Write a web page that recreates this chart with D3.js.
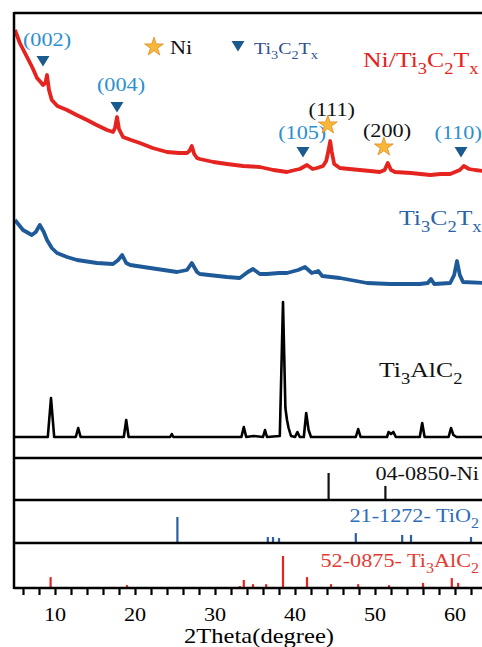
<!DOCTYPE html>
<html>
<head>
<meta charset="utf-8">
<script src="https://cdn.jsdelivr.net/npm/d3@7"></script>
<style>
  body { margin: 0; background: #fff; }
  svg { display: block; }
</style>
</head>
<body>
<div id="chart"></div>
<script>
/* * * * * * * * * * * * * *
*  XRD patterns             *
* * * * * * * * * * * * * */

// measured patterns, [2theta, intensity a.u.]
const niTi3C2Tx = [[5.0,428],[5.6,415],[6.5,401],[7.2,390],[7.75,380],[8.2,376],[8.5,373],[8.8,375],[9.0,383],[9.25,368],[9.6,358],
  [10.3,352],[11.5,348],[12.7,343],[14.0,338],[15.2,333],[16.5,328],[17.25,326],[17.5,330],[17.75,341],[18.0,329],[18.5,321],
  [19.5,318],[20.6,315],[22.2,310],[24.0,306],[25.5,305],[26.5,305],[26.8,307],[27.1,312],[27.4,304],[27.75,300],[28.1,299],
  [29.8,296],[31.5,294],[33.5,292],[35.6,291],[37.3,288],[39.0,286],[40.0,288],[40.6,289],[41.5,293],[42.2,289],[42.75,290],
  [43.5,292],[43.9,297],[44.2,308],[44.4,317],[44.6,306],[44.9,294],[45.6,290],[46.8,289],[48.1,288],[49.4,287],[50.6,286],
  [51.2,288],[51.6,295],[52.0,288],[52.5,286],[54.5,285],[56.9,283],[58.2,284],[59.4,284],[60.6,288],[61.1,292],[61.75,289],
  [62.5,288],[63.5,287]];

const ti3C2Tx = [[5.0,238],[6.0,228],[7.1,223],[7.6,226],[8.1,233],[8.6,226],[9.0,218],[9.6,210],[10.25,205],[11.5,201],
  [12.75,198],[15.25,195],[17.25,194],[17.9,198],[18.4,203],[18.9,195],[19.4,193],[21.9,190],[25.25,186],[26.5,188],[27.1,195],
  [27.75,186],[28.1,184],[31.5,181],[33.1,180],[34.1,186],[34.75,189],[35.6,184],[36.5,184],[38.0,185],[39.0,185],[40.4,188],
  [41.25,191],[42.1,185],[42.9,187],[43.4,182],[45.6,180],[49.0,175],[51.9,174],[55.6,174],[56.6,175],[57.0,179],[57.4,174],
  [59.4,175],[59.9,183],[60.25,197],[60.6,183],[61.0,176],[63.5,175]];

const ti3AlC2 = [[5,21],[9.1,21],[9.5,60],[9.9,21],[12.6,21],[12.9,30],[13.2,21],[18.6,21],[18.9,38],[19.2,21],[24.4,21],
  [24.6,24],[24.8,21],[33.3,21],[33.6,31],[33.9,21],[34.8,22],[36.0,21],[36.25,28],[36.5,21],[38.1,22],[38.5,156],[38.8,50],
  [39.0,38],[39.2,30],[39.5,22],[40.0,21],[40.3,26],[40.6,21],[41.1,21],[41.4,45],[41.7,28],[42.0,21],[47.6,21],[47.9,29],
  [48.2,21],[51.5,21],[51.7,26],[52.0,24],[52.3,26],[52.6,21],[55.6,21],[55.9,35],[56.2,21],[59.2,21],[59.5,30],[59.8,23],
  [60.2,21],[63.5,21]];

// reference cards, [2theta, relative intensity]
const cardNi = [[44.2,100],[51.3,52]];
const cardTiO2 = [[25.3,100],[36.6,23],[37.25,23],[38.0,19],[47.6,38],[53.4,31],[54.5,31],[62.0,23]];
const cardTi3AlC2 = [[9.45,34],[19.0,9],[33.1,6],[33.6,25],[34.75,12],[36.4,12],[38.5,100],[41.5,34],[44.5,12],
  [47.9,12],[51.75,9],[56.0,16],[59.6,31],[60.4,16]];

// peak labels: marker position and label position in data units
const peakLabels = [
  {text: "(002)", kind: "tri",  deg: 8.5,   val: 397, tdeg: 9.0,  tval: 412},
  {text: "(004)", kind: "tri",  deg: 17.75, val: 351, tdeg: 18.25, tval: 367},
  {text: "(105)", kind: "tri",  deg: 41.0,  val: 306, tdeg: 40.9, tval: 319},
  {text: "(111)", kind: "star", deg: 44.1,  val: 333, tdeg: 44.6, tval: 342},
  {text: "(200)", kind: "star", deg: 51.1,  val: 311, tdeg: 51.5, tval: 321},
  {text: "(110)", kind: "tri",  deg: 60.75, val: 306, tdeg: 60.4, tval: 319}
];

const xTicks = [6,8,10,12,14,16,18,20,22,24,26,28,30,32,34,36,38,40,42,44,46,48,50,52,54,56,58,60,62];
const xLabels = [10,20,30,40,50,60];

const W = 482, H = 647;
const SX = 1.17; // the figure is stretched sideways
const FONT = "'Liberation Serif', 'Times New Roman', serif";
const RED = "#e52420", BLUE = "#1f5a98", LBLUE = "#2b8fd0", TRI = "#1a5a8c";

let svg = d3.select("#chart").append("svg")
    .attr("width", W).attr("height", H)
    .style("font-family", FONT);

let x = d3.scaleLinear().domain([5, 65]).range([15, 495]);
let yMain = d3.scaleLinear().domain([0, 445]).range([458, 13]);

// panels for reference cards
let panels = [
    {data: cardNi, color: "#111", y: d3.scaleLinear().domain([0,100]).range([500, 473])},
    {data: cardTiO2, color: "#2b5ea3", y: d3.scaleLinear().domain([0,100]).range([543, 517])},
    {data: cardTi3AlC2, color: RED, y: d3.scaleLinear().domain([0,100]).range([588, 556])}
];

// text with _x subscripts, stretched sideways
function richText(parent, px, py, str, size, color, anchor) {
    let g = parent.append("g").attr("transform", `translate(${px},${py}) scale(${SX},1)`);
    let t = g.append("text").attr("font-size", size).attr("fill", color)
        .attr("text-anchor", anchor || "start");
    let parts = [], buf = "";
    for (let i = 0; i < str.length; i++) {
        if (str[i] === "_") {
            if (buf) parts.push({s: buf, sub: false});
            buf = "";
            parts.push({s: str[i+1], sub: true});
            i++;
        } else buf += str[i];
    }
    if (buf) parts.push({s: buf, sub: false});
    let shift = 0;
    parts.forEach(p => {
        if (p.sub) {
            t.append("tspan").attr("font-size", size * 0.72).attr("dy", size * 0.3 - shift).text(p.s);
            shift = size * 0.3;
        } else {
            t.append("tspan").attr("dy", -shift).text(p.s);
            shift = 0;
        }
    });
    return g;
}

let line = d3.line().x(d => x(d[0])).y(d => yMain(d[1]));

svg.append("path").datum(ti3AlC2).attr("d", line)
    .attr("fill", "none").attr("stroke", "#000").attr("stroke-width", 2.6).attr("stroke-linejoin", "round");
svg.append("path").datum(ti3C2Tx).attr("d", line)
    .attr("fill", "none").attr("stroke", BLUE).attr("stroke-width", 3.8).attr("stroke-linejoin", "round");
svg.append("path").datum(niTi3C2Tx).attr("d", line)
    .attr("fill", "none").attr("stroke", RED).attr("stroke-width", 3.8).attr("stroke-linejoin", "round");

// sticks
panels.forEach(p => {
    svg.append("g").selectAll("line").data(p.data).enter().append("line")
        .attr("x1", d => x(d[0])).attr("x2", d => x(d[0]))
        .attr("y1", p.y(0)).attr("y2", d => p.y(d[1]))
        .attr("stroke", p.color).attr("stroke-width", 2.2);
});

// frame + panel separators
let frame = svg.append("g").attr("stroke", "#000").attr("stroke-width", 2.5);
frame.append("line").attr("x1", 14).attr("x2", W).attr("y1", 13).attr("y2", 13);
frame.append("line").attr("x1", 14).attr("x2", 14).attr("y1", 12).attr("y2", 589);
[458, 500, 543, 588].forEach(yy => {
    frame.append("line").attr("x1", 14).attr("x2", W).attr("y1", yy).attr("y2", yy);
});

// x axis: only the tick marks from the axis, labels placed on labelled ticks
let xAxis = d3.axisBottom(x).tickValues(xTicks).tickSize(7).tickFormat("");
let axisG = svg.append("g").attr("transform", "translate(0,588)").call(xAxis);
axisG.select(".domain").remove();
axisG.selectAll(".tick text").remove();
axisG.selectAll(".tick line").attr("stroke", "#000").attr("stroke-width", 2.2);

xLabels.forEach(d => richText(svg, x(d), 621, String(d), 19, "#000", "middle"));

richText(svg, 259, 643, "2Theta(degree)", 21, "#000", "middle");

// peak markers
let triPath = "M-6.5,-5 L6.5,-5 L0,5.5 Z";
let star = d3.symbol(d3.symbolStar).size(110)();

peakLabels.forEach(p => {
    if (p.kind === "tri") {
        svg.append("path").attr("d", triPath)
            .attr("transform", `translate(${x(p.deg)},${yMain(p.val)})`)
            .attr("fill", TRI);
        richText(svg, x(p.tdeg), yMain(p.tval), p.text, 19, LBLUE, "middle");
    } else {
        svg.append("path").attr("d", star)
            .attr("transform", `translate(${x(p.deg)},${yMain(p.val)})`)
            .attr("fill", "#f7b83a").attr("stroke", "#e08c22").attr("stroke-width", 0.8);
        richText(svg, x(p.tdeg), yMain(p.tval), p.text, 19, "#111", "middle");
    }
});

// legend
svg.append("path").attr("d", star).attr("transform", "translate(154,47)")
    .attr("fill", "#f7b83a").attr("stroke", "#e08c22").attr("stroke-width", 0.8);
richText(svg, 170, 54, "Ni", 19, "#111");
svg.append("path").attr("d", triPath).attr("transform", "translate(238,46)").attr("fill", TRI);
richText(svg, 254, 54, "Ti_3C_2T_x", 17, "#33508f");

// series labels
richText(svg, 363, 67, "Ni/Ti_3C_2T_x", 22, RED);
richText(svg, 399, 225, "Ti_3C_2T_x", 22, "#2c64a6");
richText(svg, 379, 377, "Ti_3AlC_2", 22, "#111");

// card labels
richText(svg, 479, 480, "04-0850-Ni", 19, "#111", "end");
richText(svg, 479, 522, "21-1272- TiO_2", 19, "#2f6cb7", "end");
richText(svg, 479, 567, "52-0875- Ti_3AlC_2", 19, "#e53a32", "end");
</script>
</body>
</html>
